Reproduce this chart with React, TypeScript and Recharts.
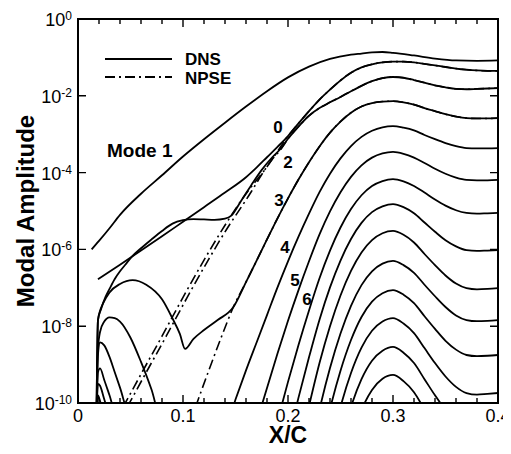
import { LineChart, Line, XAxis, YAxis } from "recharts";

const FONT = '"Liberation Sans", Arial, Helvetica, sans-serif';

// x/c ticks
const xTicks = [
  0, 0.02, 0.04, 0.06, 0.08, 0.1, 0.12, 0.14, 0.16, 0.18, 0.2, 0.22, 0.24, 0.26,
  0.28, 0.3, 0.32, 0.34, 0.36, 0.38, 0.4,
];
const xMajor = [0, 0.1, 0.2, 0.3, 0.4];
const xTickLabels = ["0", "0.1", "0.2", "0.3", "0.4"];
// decades shown on the amplitude axis
const yExponents = [-10, -8, -6, -4, -2, 0];

// log10(amplitude), [x/c, log10 A]
const dnsMode1 = [
  [0.013, -6.0], [0.02, -5.78], [0.03, -5.45], [0.04, -5.1], [0.06, -4.55],
  [0.08, -4.07], [0.1, -3.58], [0.12, -3.13], [0.14, -2.7], [0.16, -2.28],
  [0.18, -1.88], [0.2, -1.52], [0.22, -1.24], [0.24, -1.04], [0.26, -0.93],
  [0.27, -0.9], [0.28, -0.87], [0.29, -0.86], [0.3, -0.88], [0.32, -0.95],
  [0.34, -1.03], [0.36, -1.08], [0.38, -1.09], [0.4, -1.08],
];
const dnsMode0 = [
  [0.019, -6.78], [0.04, -6.4], [0.06, -6.03], [0.08, -5.66], [0.1, -5.28],
  [0.12, -4.9], [0.14, -4.52], [0.16, -4.12], [0.17, -3.87], [0.18, -3.6],
  [0.19, -3.33], [0.2, -3.05], [0.21, -2.72], [0.22, -2.4], [0.23, -2.1],
  [0.24, -1.84], [0.25, -1.6], [0.26, -1.4], [0.27, -1.26], [0.28, -1.18],
  [0.29, -1.13], [0.3, -1.11], [0.31, -1.11], [0.32, -1.13], [0.33, -1.17],
  [0.34, -1.21], [0.35, -1.25], [0.36, -1.29], [0.37, -1.32], [0.38, -1.34],
  [0.39, -1.35], [0.4, -1.35],
];
const dnsMode2 = [
  [0.0175, -10.6], [0.019, -7.85], [0.022, -7.55], [0.026, -7.25], [0.03, -7.03],
  [0.035, -6.77], [0.04, -6.57], [0.045, -6.4], [0.052, -6.17], [0.06, -5.97],
  [0.07, -5.74], [0.08, -5.52], [0.09, -5.33], [0.1, -5.24], [0.11, -5.21],
  [0.12, -5.22], [0.13, -5.23], [0.14, -5.2], [0.146, -5.12], [0.155, -4.75],
  [0.165, -4.33], [0.175, -3.93], [0.185, -3.6], [0.193, -3.38], [0.2, -3.12],
  [0.21, -2.8], [0.22, -2.52], [0.23, -2.32], [0.24, -2.17], [0.25, -2.03],
  [0.26, -1.88], [0.27, -1.74], [0.28, -1.62], [0.29, -1.54], [0.3, -1.51],
  [0.31, -1.53], [0.32, -1.59], [0.33, -1.66], [0.34, -1.73], [0.35, -1.78],
  [0.36, -1.82], [0.37, -1.83], [0.38, -1.82], [0.39, -1.81], [0.4, -1.8],
];
const dnsMode3 = [
  [0.0175, -10.6], [0.019, -7.85], [0.021, -7.6], [0.024, -7.4], [0.03, -7.12],
  [0.04, -6.9], [0.052, -6.8], [0.065, -6.92], [0.08, -7.3], [0.09, -7.8],
  [0.097, -8.2], [0.102, -8.59], [0.11, -8.33], [0.12, -8.1], [0.133, -7.84],
  [0.148, -7.5], [0.16, -6.85], [0.17, -6.3], [0.18, -5.74], [0.19, -5.19],
  [0.2, -4.67], [0.21, -4.18], [0.22, -3.73], [0.23, -3.32], [0.24, -2.96],
  [0.25, -2.67], [0.26, -2.44], [0.27, -2.28], [0.28, -2.19], [0.29, -2.15],
  [0.3, -2.14], [0.31, -2.17], [0.32, -2.23], [0.33, -2.32], [0.34, -2.4],
  [0.35, -2.48], [0.36, -2.54], [0.37, -2.58], [0.38, -2.59], [0.39, -2.59],
  [0.4, -2.58],
];
const dnsMode4 = [
  [0.0175, -10.6], [0.019, -8.6], [0.021, -8.15], [0.025, -7.88], [0.03, -7.77],
  [0.035, -7.79], [0.04, -7.88], [0.05, -8.3], [0.06, -8.93], [0.07, -9.65],
  [0.08, -10.5], [0.14, -10.71], [0.15, -9.91], [0.16, -9.15], [0.17, -8.43],
  [0.18, -7.71], [0.19, -6.99], [0.2, -6.31], [0.21, -5.67], [0.22, -5.07],
  [0.23, -4.51], [0.24, -4.03], [0.25, -3.63], [0.26, -3.31], [0.27, -3.07],
  [0.28, -2.91], [0.29, -2.82], [0.3, -2.79], [0.31, -2.83], [0.32, -2.9],
  [0.33, -3.02], [0.34, -3.13], [0.35, -3.23], [0.36, -3.31], [0.37, -3.36],
  [0.38, -3.37], [0.39, -3.37], [0.4, -3.36],
];
const dnsMode5 = [
  [0.0175, -10.6], [0.019, -8.75], [0.021, -8.42], [0.025, -8.5], [0.03, -8.8],
  [0.035, -9.2], [0.04, -9.6], [0.05, -10.4], [0.16, -11.41], [0.17, -10.51],
  [0.18, -9.61], [0.19, -8.71], [0.2, -7.86], [0.21, -7.06], [0.22, -6.31],
  [0.23, -5.61], [0.24, -5.01], [0.25, -4.51], [0.26, -4.11], [0.27, -3.81],
  [0.28, -3.61], [0.29, -3.5], [0.3, -3.46], [0.31, -3.51], [0.32, -3.61],
  [0.33, -3.75], [0.34, -3.9], [0.35, -4.03], [0.36, -4.13], [0.37, -4.19],
  [0.38, -4.2], [0.39, -4.2], [0.4, -4.19],
];
const dnsMode6 = [
  [0.0175, -10.6], [0.019, -9.2], [0.021, -9.1], [0.025, -9.4], [0.03, -9.8],
  [0.035, -10.2], [0.18, -11.55], [0.19, -10.47], [0.2, -9.45], [0.21, -8.49],
  [0.22, -7.59], [0.23, -6.75], [0.24, -6.03], [0.25, -5.43], [0.26, -4.95],
  [0.27, -4.59], [0.28, -4.35], [0.29, -4.22], [0.3, -4.17], [0.31, -4.23],
  [0.32, -4.35], [0.33, -4.52], [0.34, -4.7], [0.35, -4.86], [0.36, -4.98],
  [0.37, -5.05], [0.38, -5.07], [0.39, -5.06], [0.4, -5.05],
];
const dnsMode7 = [
  [0.0175, -10.6], [0.019, -9.5], [0.021, -9.55], [0.025, -9.9], [0.03, -10.3],
  [0.19, -12.17], [0.2, -10.98], [0.21, -9.86], [0.22, -8.81], [0.23, -7.83],
  [0.24, -6.99], [0.25, -6.29], [0.26, -5.73], [0.27, -5.31], [0.28, -5.03],
  [0.29, -4.88], [0.3, -4.82], [0.31, -4.9], [0.32, -5.06], [0.33, -5.3],
  [0.34, -5.54], [0.35, -5.76], [0.36, -5.92], [0.37, -6.02], [0.38, -6.04],
  [0.39, -6.03], [0.4, -6.02],
];
const dnsMode8 = [
  [0.0175, -10.6], [0.019, -9.8], [0.021, -9.95], [0.025, -10.3], [0.2, -12.56],
  [0.21, -11.28], [0.22, -10.08], [0.23, -8.96], [0.24, -8.0], [0.25, -7.2],
  [0.26, -6.56], [0.27, -6.08], [0.28, -5.76], [0.29, -5.58], [0.3, -5.52],
  [0.31, -5.62], [0.32, -5.82], [0.33, -6.12], [0.34, -6.41], [0.35, -6.68],
  [0.36, -6.89], [0.37, -7.01], [0.38, -7.04], [0.39, -7.03], [0.4, -7.01],
];
const dnsMode9 = [
  [0.0175, -10.6], [0.019, -10.0], [0.021, -10.3], [0.21, -12.78], [0.22, -11.43],
  [0.23, -10.17], [0.24, -9.09], [0.25, -8.19], [0.26, -7.47], [0.27, -6.93],
  [0.28, -6.57], [0.29, -6.37], [0.3, -6.3], [0.31, -6.41], [0.32, -6.61],
  [0.33, -6.92], [0.34, -7.22], [0.35, -7.5], [0.36, -7.72], [0.37, -7.84],
  [0.38, -7.87], [0.39, -7.86], [0.4, -7.84],
];
const dnsMode10 = [
  [0.22, -12.76], [0.23, -11.36], [0.24, -10.16], [0.25, -9.16], [0.26, -8.36],
  [0.27, -7.76], [0.28, -7.36], [0.29, -7.14], [0.3, -7.06], [0.31, -7.18],
  [0.32, -7.4], [0.33, -7.74], [0.34, -8.07], [0.35, -8.38], [0.36, -8.61],
  [0.37, -8.75], [0.38, -8.78], [0.39, -8.77], [0.4, -8.75],
];
const dnsMode11 = [
  [0.23, -12.52], [0.24, -11.2], [0.25, -10.1], [0.26, -9.22], [0.27, -8.56],
  [0.28, -8.12], [0.29, -7.88], [0.3, -7.79], [0.31, -7.93], [0.32, -8.18],
  [0.33, -8.57], [0.34, -8.96], [0.35, -9.31], [0.36, -9.58], [0.37, -9.74],
  [0.38, -9.78], [0.39, -9.76], [0.4, -9.74],
];
const dnsMode12 = [
  [0.24, -12.26], [0.25, -11.06], [0.26, -10.1], [0.27, -9.38], [0.28, -8.9],
  [0.29, -8.64], [0.3, -8.54], [0.31, -8.69], [0.32, -8.96], [0.33, -9.38],
  [0.34, -9.8], [0.35, -10.18], [0.36, -10.47], [0.37, -10.64],
];
const dnsMode13 = [
  [0.25, -12.0], [0.26, -10.96], [0.27, -10.18], [0.28, -9.66], [0.29, -9.37],
  [0.3, -9.27], [0.31, -9.43], [0.32, -9.72], [0.33, -10.17], [0.34, -10.62],
];

// NPSE where it departs from DNS; further downstream it lies on the DNS curve
const npseMode0Start = [
  [0.043, -10.1], [0.06, -9.25], [0.08, -8.26], [0.1, -7.25], [0.12, -6.28],
  [0.14, -5.37], [0.16, -4.55], [0.18, -3.85], [0.19, -3.45],
];
const npseMode2Start = [
  [0.047, -10.1], [0.064, -9.25], [0.084, -8.26], [0.104, -7.25], [0.124, -6.28],
  [0.144, -5.37], [0.155, -4.92], [0.165, -4.5], [0.175, -4.05], [0.185, -3.65],
  [0.193, -3.4],
];
const npseMode3Start = [
  [0.112, -10.1], [0.125, -9.12], [0.137, -8.25], [0.148, -7.5],
];

const dnsSeries = [
  dnsMode0, dnsMode1, dnsMode2, dnsMode3, dnsMode4, dnsMode5, dnsMode6,
  dnsMode7, dnsMode8, dnsMode9, dnsMode10, dnsMode11, dnsMode12, dnsMode13,
];
const npseSeries = [
  [...npseMode0Start, ...dnsMode0.filter((p) => p[0] >= 0.2)],
  [...npseMode2Start, ...dnsMode2.filter((p) => p[0] >= 0.2)],
  [...npseMode3Start, ...dnsMode3.filter((p) => p[0] >= 0.16)],
];

const toData = (pts: number[][]) =>
  pts.map(([x, e]) => ({ x, y: Math.pow(10, e) }));

const isMajor = (v: number) => xMajor.some((m) => Math.abs(m - v) < 1e-9);
const labelFor = (v: number) => xTickLabels[xMajor.findIndex((m) => Math.abs(m - v) < 1e-9)];

// edges of the plot box inside the chart svg
const BOX = { left: 70, top: 11, right: 490, bottom: 395 };
const W = BOX.right - BOX.left;
const H = BOX.bottom - BOX.top;

function BottomTick(props: any) {
  const { x, payload } = props;
  if (!isMajor(payload.value)) return <g />;
  return (
    <text x={x} y={BOX.bottom + 19} textAnchor="middle" fontSize={18} fontFamily={FONT} fill="#000">
      {labelFor(payload.value)}
    </text>
  );
}

function LeftTick(props: any) {
  const { y, payload } = props;
  const exp = Math.round(Math.log10(payload.value));
  return (
    <text x={BOX.left - 6} y={y + 7} textAnchor="end" fontSize={18} fontFamily={FONT} fill="#000">
      <tspan>10</tspan>
      <tspan dy={-6} fontSize={12}>{exp}</tspan>
    </text>
  );
}

// inward tick marks and the box, laid over the chart
function PlotFrame() {
  const xs = xTicks.map((v) => ({ p: BOX.left + (v / 0.4) * W, h: isMajor(v) ? 8 : 5 }));
  const ys = yExponents.map((e) => BOX.top + (-e / 10) * H);
  let d = "";
  xs.forEach((t) => {
    d += `M${t.p},${BOX.bottom}V${BOX.bottom - t.h}M${t.p},${BOX.top}V${BOX.top + t.h}`;
  });
  ys.forEach((p) => {
    d += `M${BOX.left},${p}H${BOX.left + 8}M${BOX.right},${p}H${BOX.right - 8}`;
  });
  const box = `M${BOX.left},${BOX.top}H${BOX.right}V${BOX.bottom}H${BOX.left}Z`;
  return (
    <>
      <path d={box} fill="none" stroke="#000" strokeWidth={2} />
      <path d={d} fill="none" stroke="#000" strokeWidth={1.4} />
    </>
  );
}

const axisLine = { stroke: "#000", strokeWidth: 2 };

export default function App() {
  const yTicks = yExponents.map((e) => Math.pow(10, e));
  return (
    <div style={{ position: "relative", width: 503, height: 446 }}>
      <LineChart
        width={503}
        height={446}
        margin={{ top: 1, right: 3, bottom: 41, left: 60 }}
      >
        <XAxis
          xAxisId="b"
          dataKey="x"
          type="number"
          domain={[0, 0.4]}
          ticks={xTicks}
          interval={0}
          allowDataOverflow
          height={10}
          axisLine={axisLine}
          tickLine={false}
          tick={<BottomTick />}
        />
        <YAxis
          yAxisId="l"
          scale="log"
          type="number"
          domain={[1e-10, 1]}
          ticks={yTicks}
          allowDataOverflow
          width={10}
          axisLine={axisLine}
          tickLine={false}
          tick={<LeftTick />}
        />
        <YAxis
          yAxisId="r"
          orientation="right"
          scale="log"
          type="number"
          domain={[1e-10, 1]}
          ticks={yTicks}
          width={10}
          axisLine={axisLine}
          tickLine={false}
          tick={false}
        />
        <XAxis
          xAxisId="t"
          orientation="top"
          dataKey="x"
          type="number"
          domain={[0, 0.4]}
          ticks={xTicks}
          height={10}
          axisLine={axisLine}
          tickLine={false}
          tick={false}
        />
        {npseSeries.map((s, i) => (
          <Line
            key={"npse" + i}
            xAxisId="b"
            yAxisId="l"
            data={toData(s)}
            dataKey="y"
            type="monotone"
            stroke="#000"
            strokeWidth={1.6}
            strokeDasharray="10 4 2 4"
            dot={false}
            isAnimationActive={false}
          />
        ))}
        {dnsSeries.map((s, i) => (
          <Line
            key={"dns" + i}
            xAxisId="b"
            yAxisId="l"
            data={toData(s)}
            dataKey="y"
            type="monotone"
            stroke="#000"
            strokeWidth={1.8}
            dot={false}
            isAnimationActive={false}
          />
        ))}
      </LineChart>
      <svg
        width={503}
        height={446}
        style={{ position: "absolute", left: 0, top: 0, pointerEvents: "none", zIndex: 10 }}
        fontFamily={FONT}
      >
        <PlotFrame />
        <line x1={97} x2={164} y1={51} y2={51} stroke="#000" strokeWidth={2} />
        <line x1={97} x2={164} y1={69} y2={69} stroke="#000" strokeWidth={2} strokeDasharray="10 4 2 4" />
        <text x={177} y={57} fontSize={17} fontWeight="bold">DNS</text>
        <text x={177} y={76} fontSize={17} fontWeight="bold">NPSE</text>
        <text x={99} y={149} fontSize={19} fontWeight="bold">Mode 1</text>
        <text x={270} y={125} fontSize={17} fontWeight="bold" textAnchor="middle">0</text>
        <text x={280} y={160} fontSize={17} fontWeight="bold" textAnchor="middle">2</text>
        <text x={271} y={198} fontSize={17} fontWeight="bold" textAnchor="middle">3</text>
        <text x={277} y={245} fontSize={17} fontWeight="bold" textAnchor="middle">4</text>
        <text x={287} y={278} fontSize={17} fontWeight="bold" textAnchor="middle">5</text>
        <text x={299} y={297} fontSize={17} fontWeight="bold" textAnchor="middle">6</text>
        <text x={280} y={435} fontSize={23} fontWeight="bold" textAnchor="middle">X/C</text>
        <text
          x={26}
          y={203}
          fontSize={24}
          fontWeight="bold"
          textAnchor="middle"
          transform="rotate(-90 26 203)"
        >
          Modal Amplitude
        </text>
      </svg>
    </div>
  );
}
